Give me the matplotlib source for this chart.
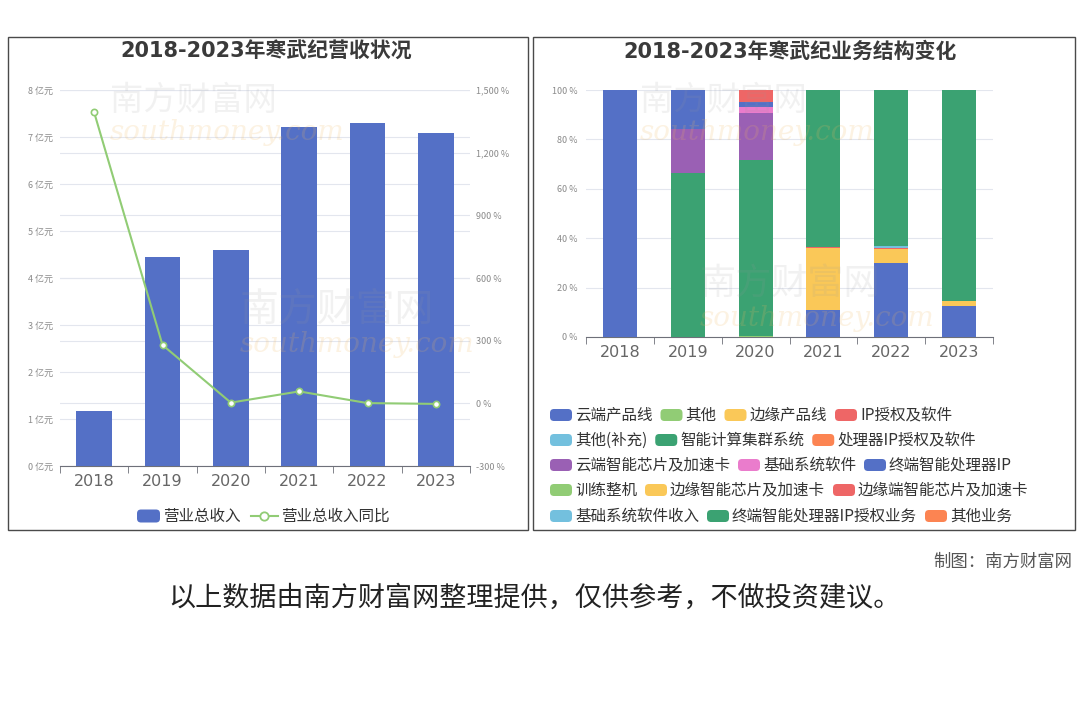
import numpy as np
import matplotlib
matplotlib.use("Agg")
import matplotlib.pyplot as plt
from matplotlib.patches import FancyBboxPatch, Rectangle
from matplotlib.lines import Line2D

plt.rcParams['font.family'] = ['Noto Sans CJK SC', 'DejaVu Sans']

# ── data ─────────────────────────────────────────────────────────────────────
years = ['2018', '2019', '2020', '2021', '2022', '2023']

# 营业总收入 (亿元) and 同比 (%)
revenue = [1.17, 4.44, 4.59, 7.21, 7.29, 7.09]
revenue_yoy = [1392.7, 279.3, 3.4, 57.1, 1.1, -2.7]

# business share (%) per year, stacked bottom -> top in legend order
cloud_line = [0, 0, 0, 10.9, 30.0, 12.6]          # 云端产品线
other = [0, 0, 0.5, 0, 0, 0]                       # 其他
edge_line = [0, 0, 0, 25.1, 5.8, 1.8]              # 边缘产品线
ip_software = [0, 0, 0, 0.6, 0.2, 0]               # IP授权及软件
other_extra = [0, 0, 0, 0, 0.8, 0.3]               # 其他(补充)
cluster_system = [0, 66.4, 71.2, 63.4, 63.2, 85.3] # 智能计算集群系统
proc_ip_software = [0, 0, 0, 0, 0, 0]              # 处理器IP授权及软件
cloud_chip = [0, 17.8, 19.0, 0, 0, 0]              # 云端智能芯片及加速卡
base_software = [0, 0, 2.4, 0, 0, 0]               # 基础系统软件
terminal_ip = [100, 15.8, 2.0, 0, 0, 0]            # 终端智能处理器IP
training_machine = [0, 0, 0, 0, 0, 0]              # 训练整机
edge_chip = [0, 0, 0, 0, 0, 0]                     # 边缘智能芯片及加速卡
edge_end_chip = [0, 0, 4.9, 0, 0, 0]               # 边缘端智能芯片及加速卡
base_software_income = [0, 0, 0, 0, 0, 0]          # 基础系统软件收入
terminal_ip_biz = [0, 0, 0, 0, 0, 0]               # 终端智能处理器IP授权业务
other_biz = [0, 0, 0, 0, 0, 0]                     # 其他业务

biz_names = ['云端产品线', '其他', '边缘产品线', 'IP授权及软件',
             '其他(补充)', '智能计算集群系统', '处理器IP授权及软件',
             '云端智能芯片及加速卡', '基础系统软件', '终端智能处理器IP',
             '训练整机', '边缘智能芯片及加速卡', '边缘端智能芯片及加速卡',
             '基础系统软件收入', '终端智能处理器IP授权业务', '其他业务']
biz_values = [cloud_line, other, edge_line, ip_software, other_extra,
              cluster_system, proc_ip_software, cloud_chip, base_software,
              terminal_ip, training_machine, edge_chip, edge_end_chip,
              base_software_income, terminal_ip_biz, other_biz]

# echarts default palette
PALETTE = ['#5470c6', '#91cc75', '#fac858', '#ee6666', '#73c0de',
           '#3ba272', '#fc8452', '#9a60b4', '#ea7ccc']
BLUE, GREEN = PALETTE[0], PALETTE[1]
GRID = '#e3e6ee'
AXIS = '#6e7079'

# legend rows of the right chart (indices into biz_names)
legend_rows = [[0, 1, 2, 3], [4, 5, 6], [7, 8, 9], [10, 11, 12], [13, 14, 15]]

W, H = 1080, 720


def frame(x0, y0, x1, y1):
    """pixel box (top-left origin) -> figure fraction rect"""
    return [x0 / W, 1 - y1 / H, (x1 - x0) / W, (y1 - y0) / H]


fig = plt.figure(figsize=(W / 100, H / 100), dpi=100)
fig.patch.set_facecolor('white')

x = np.arange(len(years))

# ── left: revenue bars + yoy line ────────────────────────────────────────────
ax = fig.add_axes(frame(60, 90, 470, 466))
ax.bar(x, revenue, width=0.52, color=BLUE, zorder=3)
ax.set_xlim(-0.5, 5.5)
ax.set_ylim(0, 8)
ax.set_yticks(range(0, 9))
ax.set_yticklabels([f'{v} 亿元' for v in range(0, 9)], fontsize=6.5, color='#8a8a8a')
ax.grid(axis='y', color=GRID, lw=0.8, zorder=0)
ax.set_axisbelow(True)
# split lines of the right-hand axis, drawn under the bars
for v in range(-300, 1501, 300):
    ax.axhline((v + 300) / 1800 * 8, color=GRID, lw=0.8, zorder=0)
for s in ['top', 'right', 'left']:
    ax.spines[s].set_visible(False)
ax.spines['bottom'].set_color(AXIS)
ax.tick_params(axis='y', length=0, pad=5)
ax.set_xticks(x)
ax.set_xticklabels(years, fontsize=11.5, color='#666666', family='DejaVu Sans')
ax.tick_params(axis='x', length=0, pad=6)
ax.set_xticks(np.arange(-0.5, 6, 1), minor=True)
ax.tick_params(axis='x', which='minor', length=5, color=AXIS)

ax2 = ax.twinx()
ax2.plot(x, revenue_yoy, color=GREEN, lw=1.5, marker='o', ms=4.5,
         mfc='white', mec=GREEN, mew=1.2, zorder=5)
ax2.set_ylim(-300, 1500)
ax2.set_yticks(range(-300, 1501, 300))
ax2.set_yticklabels([f'{v:,} %' for v in range(-300, 1501, 300)],
                    fontsize=6.5, color='#8a8a8a')
ax2.tick_params(axis='y', length=0, pad=4)
for s in ['top', 'right', 'left', 'bottom']:
    ax2.spines[s].set_visible(False)

# ── right: business structure stacked bars ──────────────────────────────────
bx = fig.add_axes(frame(586, 90, 993, 337))
bottom = np.zeros(len(years))
for i, vals in enumerate(biz_values):
    vals = np.array(vals, dtype=float)
    bx.bar(x, vals, bottom=bottom, width=0.5,
           color=PALETTE[i % len(PALETTE)], zorder=3)
    bottom += vals
bx.set_xlim(-0.5, 5.5)
bx.set_ylim(0, 100)
bx.set_yticks(range(0, 101, 20))
bx.set_yticklabels([f'{v} %' for v in range(0, 101, 20)], fontsize=6.5, color='#8a8a8a')
bx.grid(axis='y', color=GRID, lw=0.8, zorder=0)
bx.set_axisbelow(True)
for s in ['top', 'right', 'left']:
    bx.spines[s].set_visible(False)
bx.spines['bottom'].set_color(AXIS)
bx.tick_params(axis='y', length=0, pad=6)
bx.set_xticks(x)
bx.set_xticklabels(years, fontsize=11.5, color='#666666', family='DejaVu Sans')
bx.tick_params(axis='x', length=0, pad=6)
bx.set_xticks(np.arange(-0.5, 6, 1), minor=True)
bx.tick_params(axis='x', which='minor', length=5, color=AXIS)

# ── overlay in pixel coordinates: frames, titles, legends, footer ───────────
ov = fig.add_axes([0, 0, 1, 1], zorder=10)
ov.set_xlim(0, W)
ov.set_ylim(H, 0)
ov.axis('off')
ov.patch.set_alpha(0)

for x0, x1 in [(8, 528), (533, 1075)]:
    ov.add_patch(Rectangle((x0, 37), x1 - x0, 493, fill=False,
                           ec='#4a4a4a', lw=1.0))

title_font = ['DejaVu Sans', 'Noto Sans CJK SC']
ov.text(266, 52, '2018-2023年寒武纪营收状况', ha='center', va='center',
        fontsize=15, fontweight='bold', color='#3a3a3a', family=title_font)
ov.text(790, 52, '2018-2023年寒武纪业务结构变化', ha='center', va='center',
        fontsize=15, fontweight='bold', color='#3a3a3a', family=title_font)

# faint watermarks, kept clear of the other texts
wm = dict(color='#9a9a9a', alpha=0.13, ha='left', va='center')
ov.text(110, 100, '南方财富网', fontsize=24, **wm)
ov.text(640, 100, '南方财富网', fontsize=24, **wm)
ov.text(240, 310, '南方财富网', fontsize=28, **wm)
ov.text(700, 285, '南方财富网', fontsize=26, **wm)
wm2 = dict(color='#f0b860', alpha=0.18, ha='left', va='center', style='italic',
           family='DejaVu Serif')
ov.text(110, 132, 'southmoney.com', fontsize=20, **wm2)
ov.text(640, 132, 'southmoney.com', fontsize=20, **wm2)
ov.text(240, 345, 'southmoney.com', fontsize=20, **wm2)
ov.text(700, 318, 'southmoney.com', fontsize=20, **wm2)

fig.canvas.draw()
renderer = fig.canvas.get_renderer()


def text_width(t):
    return t.get_window_extent(renderer=renderer).width


def rect_handle(x0, yc, color, w=22, h=12):
    ov.add_patch(FancyBboxPatch((x0, yc - h / 2), w, h,
                                boxstyle='round,pad=0,rounding_size=4',
                                fc=color, ec='none'))


# left legend
leg_y = 516
rect_handle(137, leg_y, BLUE, w=23, h=13)
t = ov.text(163, leg_y, '营业总收入', ha='left', va='center', fontsize=11.2, color='#333333')
lx = 163 + text_width(t) + 10
ov.add_line(Line2D([lx, lx + 27], [leg_y, leg_y], color=GREEN, lw=1.5))
ov.add_line(Line2D([lx + 13.5], [leg_y], marker='o', ms=6, mfc='white',
                   mec=GREEN, mew=1.3, color=GREEN))
ov.text(lx + 31, leg_y, '营业总收入同比', ha='left', va='center', fontsize=11.2, color='#333333')

# right legend
row_y = [415, 440, 465, 490, 516]
for yc, row in zip(row_y, legend_rows):
    cx = 550
    for idx in row:
        rect_handle(cx, yc, PALETTE[idx % len(PALETTE)], w=22, h=12)
        t = ov.text(cx + 25, yc, biz_names[idx], ha='left', va='center',
                    fontsize=11.2, color='#333333')
        cx = cx + 25 + text_width(t) + 8

# footer
ov.text(1072, 562, '制图：南方财富网', ha='right', va='center', fontsize=12.5, color='#555555')
ov.text(534, 598, '以上数据由南方财富网整理提供，仅供参考，不做投资建议。',
        ha='center', va='center', fontsize=19.5, color='#222222')

fig.savefig('out.png', dpi=100, facecolor='white')
